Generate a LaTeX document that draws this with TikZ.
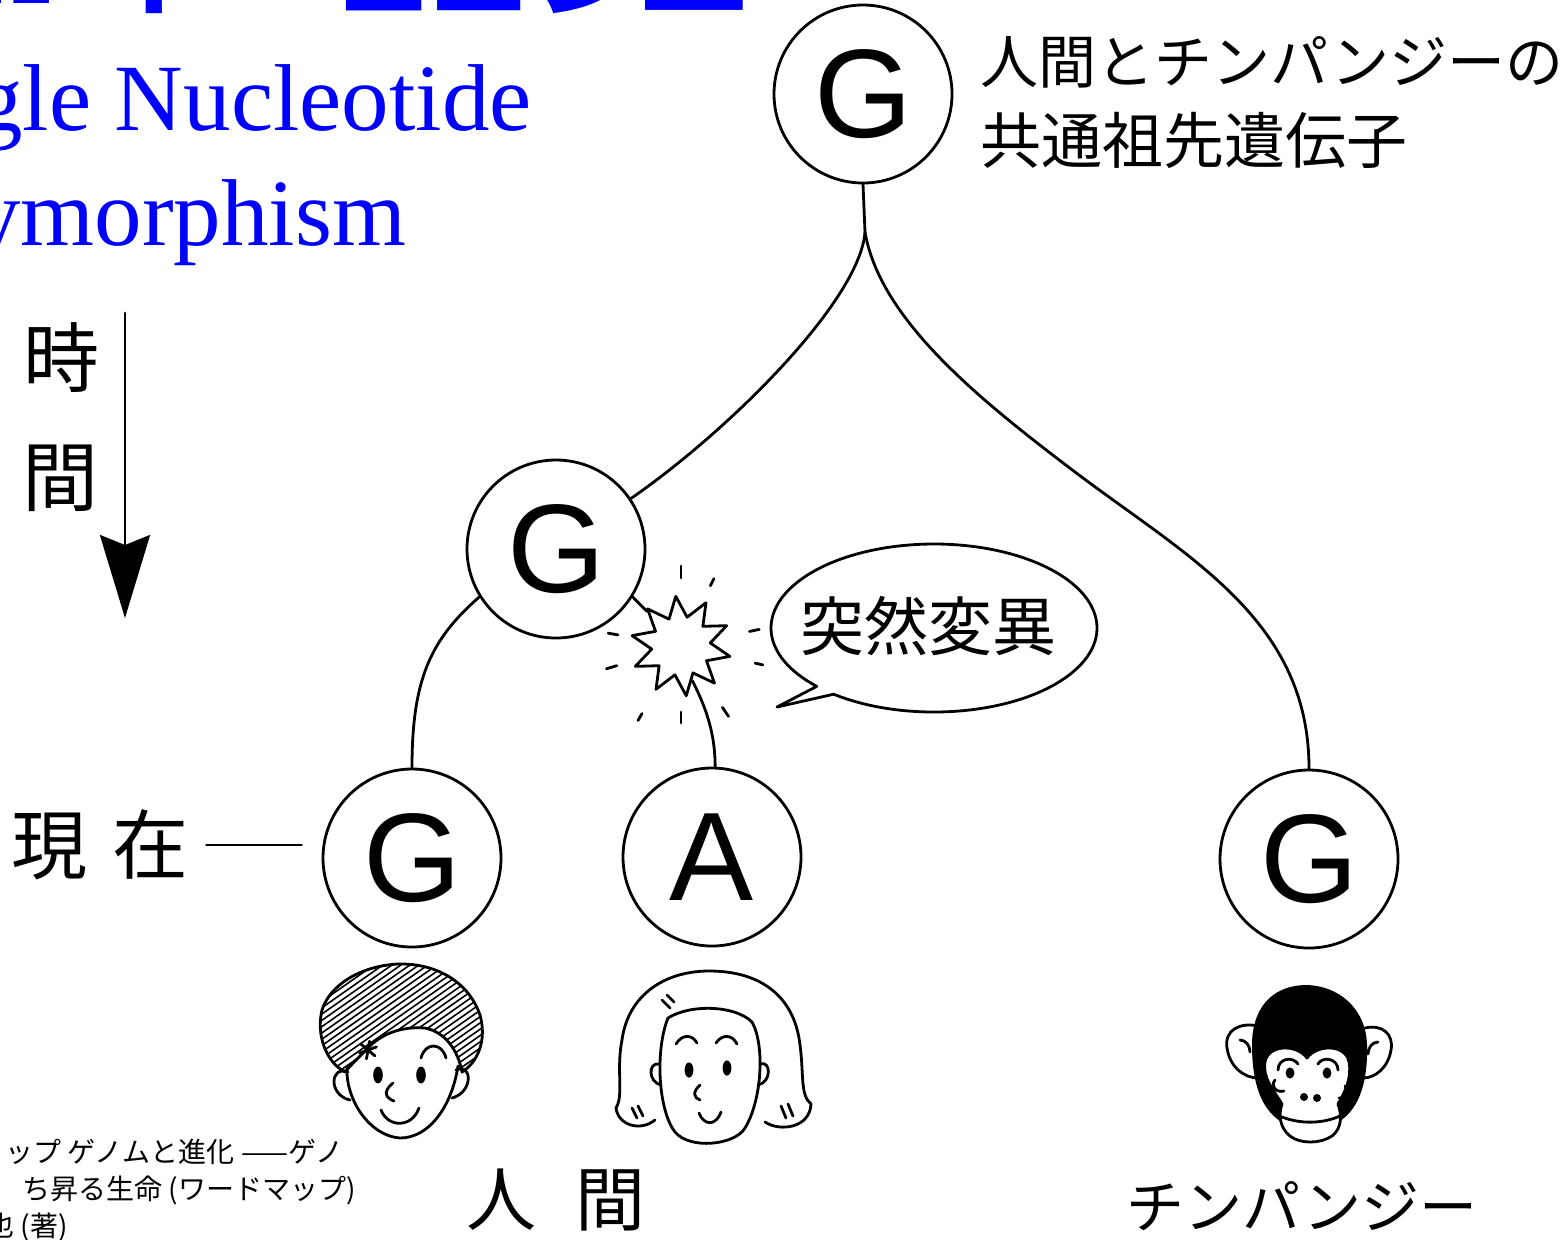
\documentclass[tikz,border=0pt]{standalone}
\usepackage{fontspec}
\usetikzlibrary{arrows.meta,shapes.geometric,calc}
\newfontfamily\cjk{Noto Sans CJK JP}
\newfontfamily\tms{Liberation Serif}
\newfontfamily\gsans{Liberation Sans}
\definecolor{titleblue}{RGB}{0,0,255}

\begin{document}
\begin{tikzpicture}[x=0.5pt,y=-0.5pt,
  ink/.style={line width=1.4pt, line cap=round, line join=round},
  base/.style={circle, draw, line width=1.4pt, minimum size=89pt, inner sep=0pt,
    fill=white, font=\gsans\fontsize{63}{63}\selectfont},
  jp/.style={inner sep=0pt},
  blue/.style={inner sep=0pt, text=titleblue, anchor=base west},
  hatch/.style={line width=0.8pt}
]
\useasboundingbox (0,0) rectangle (1567,1239);
\clip (0,0) rectangle (1567,1239);
\fill[white] (0,0) rectangle (1567,1239);

% ---------- title ----------
\node[blue] (t1) at (-122,3)
  {\tms\bfseries\fontsize{52}{52}\selectfont SNP {\cjk\bfseries\fontsize{54}{54}\selectfont 単一塩基多型}};
\node[blue, font=\tms\fontsize{47.5}{47.5}\selectfont] (t2) at (-152,130) {Single Nucleotide};
\node[blue, font=\tms\fontsize{47.5}{47.5}\selectfont] (t3) at (-154,245) {Polymorphism};

% ---------- time axis ----------
\node[jp, font=\cjk\fontsize{38}{38}\selectfont] (ji) at (62,358) {時};
\node[jp, font=\cjk\fontsize{38}{38}\selectfont] (kan) at (60,478) {間};
\coordinate (ta) at (125,313);
\coordinate (tb) at (125,618);
\draw[ink, -{Stealth[length=41.5pt, width=25pt, inset=5pt]}] (ta) -- (tb);

% ---------- gene nodes ----------
\node[base] (top) at (863,94) {G};
\node[base] (mid) at (556,549) {G};
\node[base] (gL) at (412,858) {G};
\node[base] (gA) at (712,857) {A};
\node[base] (gC) at (1309,859) {G};

% ---------- tree branches ----------
\coordinate (fork) at (865,232);
\draw[ink] (top.south) -- (fork);
\draw[ink] (fork) .. controls (860,300) and (730,430) .. (mid.34);
\draw[ink] (fork) .. controls (880,320) and (980,400) .. (1075,472)
  .. controls (1189,558) and (1309,620) .. (gC.north);
\draw[ink] (mid.212) .. controls (430,640) and (412,680) .. (gL.north);

% ---------- mutation burst ----------
\node[star, star points=10, star point ratio=1.7, draw, ink, fill=white,
  minimum size=50pt, inner sep=0pt, rotate=6] (burst) at (681,646) {};
\draw[ink] (mid.-32) -- (burst);
\draw[ink] (burst.-78) .. controls (710,715) and (715,740) .. (gA.88);
\foreach \a/\ra/\rb in {90/34/40, 64/33.5/37.5, 12/35/40, -13/38/42,
    -56/37/42.5, -90/33/38.5, -120/39/43, 197/33.5/39, 170/32/37}
  \draw[ink] ($(burst)+(\a:\ra pt)$) -- ($(burst)+(\a:\rb pt)$);

% ---------- speech bubble ----------
\coordinate (bub) at (934,628);
\coordinate (tailtip) at (777,707);
\draw[ink, fill=white] ([shift={(232:81.5pt and 42pt)}]bub)
  arc[start angle=232, end angle=584, x radius=81.5pt, y radius=42pt]
  -- (tailtip) -- cycle;
\node[jp, font=\cjk\fontsize{32}{32}\selectfont] (mut) at (928,626) {突然変異};

% ---------- labels ----------
\node[jp, anchor=west, font=\cjk\fontsize{29}{29}\selectfont] (anc1) at (980,62) {人間とチンパンジーの};
\node[jp, anchor=west, font=\cjk\fontsize{30.5}{30.5}\selectfont] (anc2) at (980,140) {共通祖先遺伝子};
\node[jp, font=\cjk\fontsize{38}{38}\selectfont] (now) at (100,845) {現\hspace{13pt}在};
\draw[ink, shorten <=8.5pt, shorten >=10pt] (now.east) -- (now.east -| gL.west);
\node[jp, font=\cjk\fontsize{35}{35}\selectfont] (hum) at (556,1200) {人\hspace{20pt}間};
\node[jp, font=\cjk\fontsize{29}{29}\selectfont] (chimp) at (1302,1206) {チンパンジー};

% ---------- source note ----------
\node[jp, anchor=west, font=\cjk\fontsize{14}{14}\selectfont] (ref1) at (5,1152) {ップ ゲノムと進化 ——ゲノ};
\node[jp, anchor=west, font=\cjk\fontsize{14}{14}\selectfont] (ref2) at (22,1190) {ち昇る生命 (ワードマップ)};
\node[jp, anchor=west, font=\cjk\fontsize{14}{14}\selectfont] (ref3) at (-14,1227) {也 (著)};

% ---------- boy ----------
\draw[ink, fill=white] (347,1066) .. controls (345,1100) and (370,1136) .. (400,1138)
  .. controls (430,1138) and (452,1105) .. (458,1066);
\draw[ink] (348,1072) .. controls (330,1065) and (328,1095) .. (350,1100);
\draw[ink] (456,1070) .. controls (472,1062) and (474,1092) .. (452,1098);
\begin{scope}
  \clip (345,1072) .. controls (326,1062) and (316,1035) .. (322,1010)
    .. controls (330,985) and (360,966) .. (398,964)
    .. controls (440,963) and (470,985) .. (480,1015)
    .. controls (487,1040) and (478,1062) .. (462,1072)
    .. controls (458,1050) and (445,1032) .. (425,1028)
    .. controls (400,1026) and (380,1035) .. (368,1048)
    .. controls (358,1058) and (350,1066) .. (345,1072) -- cycle;
  \foreach \i in {0,...,50}
    \draw[hatch] ({100+9*\i},1100) -- ++(200,-140);
\end{scope}
\draw[ink] (345,1072) .. controls (326,1062) and (316,1035) .. (322,1010)
    .. controls (330,985) and (360,966) .. (398,964)
    .. controls (440,963) and (470,985) .. (480,1015)
    .. controls (487,1040) and (478,1062) .. (462,1072)
    .. controls (458,1050) and (445,1032) .. (425,1028)
    .. controls (400,1026) and (380,1035) .. (368,1048)
    .. controls (358,1058) and (350,1066) .. (345,1072) -- cycle;
\foreach \a in {20,80,140,200,260,320}
  \draw[ink] (368,1050) -- ++(\a:4.5pt);
\fill (378,1075) ellipse [x radius=2.4pt, y radius=4.2pt];
\fill (421,1075) ellipse [x radius=2.4pt, y radius=4.2pt];
\draw[ink] (421,1058) .. controls (425,1042) and (442,1042) .. (446,1058);
\draw[ink] (393,1083) .. controls (382,1092) and (386,1098) .. (394,1101);
\draw[ink] (381,1110) .. controls (388,1128) and (412,1128) .. (419,1108);

% ---------- girl ----------
\draw[ink, fill=white] (655,1120) .. controls (640,1132) and (618,1125) .. (616,1108)
  .. controls (624,1095) and (616,1070) .. (622,1040)
  .. controls (628,995) and (665,970) .. (712,971)
  .. controls (765,972) and (795,1000) .. (800,1045)
  .. controls (804,1075) and (800,1095) .. (811,1104)
  .. controls (810,1128) and (780,1132) .. (765,1122);
\draw[ink, fill=white] (668,1018) .. controls (690,1004) and (735,1005) .. (752,1022)
  .. controls (765,1045) and (762,1100) .. (745,1128)
  .. controls (735,1145) and (690,1150) .. (675,1132)
  .. controls (658,1110) and (655,1050) .. (668,1018) -- cycle;
\draw[ink] (659,1064) .. controls (648,1062) and (648,1082) .. (661,1085);
\draw[ink] (760,1064) .. controls (771,1060) and (772,1082) .. (758,1085);
\draw[ink] (676,1044) .. controls (682,1034) and (692,1034) .. (697,1043);
\draw[ink] (716,1043) .. controls (722,1034) and (732,1034) .. (737,1044);
\fill (689,1070) ellipse [x radius=2.2pt, y radius=3.8pt];
\fill (727,1068) ellipse [x radius=2.2pt, y radius=3.8pt];
\draw[ink] (700,1085) .. controls (692,1092) and (694,1098) .. (700,1100);
\draw[ink] (699,1113) .. controls (704,1126) and (716,1126) .. (721,1112);
\draw[ink] (662,1000) -- (670,1008);
\draw[ink] (667,995) -- (674,1002);
\draw[ink] (632,1108) -- (637,1118);
\draw[ink] (638,1106) -- (643,1116);
\draw[ink] (781,1106) -- (786,1118);
\draw[ink] (788,1104) -- (793,1116);

% ---------- chimpanzee ----------
\draw[ink, fill=white] (1258,1026) .. controls (1240,1022) and (1224,1030) .. (1227,1048)
  .. controls (1230,1068) and (1245,1078) .. (1258,1078);
\draw[ink] (1240,1040) .. controls (1246,1040) and (1250,1046) .. (1250,1052);
\draw[ink, fill=white] (1365,1028) .. controls (1382,1024) and (1394,1034) .. (1391,1050)
  .. controls (1388,1068) and (1375,1078) .. (1363,1078);
\draw[ink] (1378,1042) .. controls (1372,1042) and (1368,1048) .. (1368,1054);
\fill (1305,985) .. controls (1270,986) and (1252,1010) .. (1252,1045)
  .. controls (1252,1085) and (1262,1112) .. (1285,1124) -- (1335,1124)
  .. controls (1358,1112) and (1368,1085) .. (1367,1045)
  .. controls (1366,1008) and (1338,985) .. (1305,985) -- cycle;
\draw[ink, fill=white] (1307,1058) .. controls (1297,1044) and (1268,1044) .. (1265,1062)
  .. controls (1262,1078) and (1275,1092) .. (1282,1104)
  .. controls (1278,1115) and (1280,1128) .. (1290,1136)
  .. controls (1300,1144) and (1320,1144) .. (1332,1136)
  .. controls (1342,1128) and (1342,1115) .. (1338,1104)
  .. controls (1345,1092) and (1352,1078) .. (1349,1062)
  .. controls (1346,1044) and (1317,1044) .. (1307,1058) -- cycle;
\draw[ink] (1278,1070) .. controls (1278,1058) and (1293,1056) .. (1298,1064);
\draw[ink] (1318,1064) .. controls (1322,1056) and (1338,1058) .. (1338,1070);
\fill (1290,1073) ellipse [x radius=2.2pt, y radius=2.8pt];
\fill (1327,1073) ellipse [x radius=2.2pt, y radius=2.8pt];
\draw[ink] (1275,1080) .. controls (1270,1086) and (1276,1093) .. (1284,1091);
\draw[ink] (1345,1086) .. controls (1350,1092) and (1346,1098) .. (1339,1098);
\fill (1304,1097) circle (2pt);
\fill (1317,1098) circle (2pt);
\draw[ink] (1282,1117) .. controls (1300,1124) and (1322,1124) .. (1340,1116);
\end{tikzpicture}
\end{document}
